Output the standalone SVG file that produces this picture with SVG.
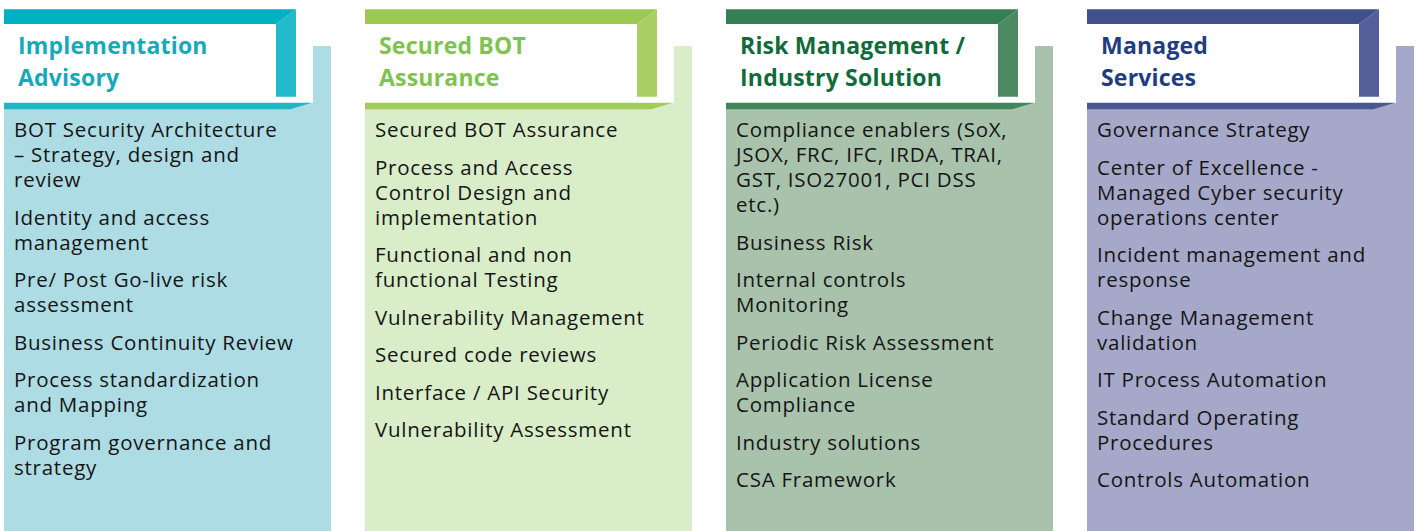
<svg xmlns="http://www.w3.org/2000/svg" width="1416" height="531" viewBox="0 0 1416 531">
<style>
.hd{font-family:"Open Sans","Noto Sans",sans-serif;font-weight:700;font-size:23px;letter-spacing:0.2px}
.bd{font-family:"Open Sans","Noto Sans",sans-serif;font-size:20.5px;letter-spacing:0.75px;fill:#151515}
.c1 .top{fill:#00B1C3}.c1 .side{fill:#22B9C8}.c1 .strip{fill:#22B5C5}.c1 .light{fill:#ADDCE4}.c1 .hd{fill:#17A9BA}
.c2 .top{fill:#9BC952}.c2 .side{fill:#A8CF63}.c2 .strip{fill:#A2CC5A}.c2 .light{fill:#D9EDC9}.c2 .hd{fill:#7EC34E}
.c3 .top{fill:#357F54}.c3 .side{fill:#4B8A62}.c3 .strip{fill:#42865C}.c3 .light{fill:#A8C2AC}.c3 .hd{fill:#0F6C3A}
.c4 .top{fill:#414F8A}.c4 .side{fill:#535F98}.c4 .strip{fill:#4A5791}.c4 .light{fill:#A5A8C9}.c4 .hd{fill:#203C82}
</style>
<rect width="1416" height="531" fill="#fff"/>
<g id="col1" class="c1">
<path class="light" d="M313,46 H331 V531 H4 V103 H313 Z"/>
<path class="top" d="M4,9.3 H296 L276,24 H4 Z"/>
<path class="side" d="M296,9.3 V96.7 H276 V24 Z"/>
<path class="strip" d="M4,102.7 H312 L290,109.3 H4 Z"/>
<text class="hd" x="18" y="54.3">Implementation<tspan x="18" dy="31.7">Advisory</tspan></text>
<text class="bd" x="14" y="137">BOT Security Architecture<tspan x="14" dy="25">– Strategy, design and</tspan><tspan x="14" dy="25">review</tspan></text>
<text class="bd" x="14" y="224.5">Identity and access<tspan x="14" dy="25">management</tspan></text>
<text class="bd" x="14" y="287">Pre/ Post Go-live risk<tspan x="14" dy="25">assessment</tspan></text>
<text class="bd" x="14" y="349.5">Business Continuity Review</text>
<text class="bd" x="14" y="387">Process standardization<tspan x="14" dy="25">and Mapping</tspan></text>
<text class="bd" x="14" y="449.5">Program governance and<tspan x="14" dy="25">strategy</tspan></text>
</g>
<g id="col2" class="c2">
<path class="light" d="M674,46 H692 V531 H365 V103 H674 Z"/>
<path class="top" d="M365,9.3 H657 L637,24 H365 Z"/>
<path class="side" d="M657,9.3 V96.7 H637 V24 Z"/>
<path class="strip" d="M365,102.7 H673 L651,109.3 H365 Z"/>
<text class="hd" x="379" y="54.3">Secured BOT<tspan x="379" dy="31.7">Assurance</tspan></text>
<text class="bd" x="375" y="137">Secured BOT Assurance</text>
<text class="bd" x="375" y="174.5">Process and Access<tspan x="375" dy="25">Control Design and</tspan><tspan x="375" dy="25">implementation</tspan></text>
<text class="bd" x="375" y="262">Functional and non<tspan x="375" dy="25">functional Testing</tspan></text>
<text class="bd" x="375" y="324.5">Vulnerability Management</text>
<text class="bd" x="375" y="362">Secured code reviews</text>
<text class="bd" x="375" y="399.5">Interface / API Security</text>
<text class="bd" x="375" y="437">Vulnerability Assessment</text>
</g>
<g id="col3" class="c3">
<path class="light" d="M1035,46 H1053 V531 H726 V103 H1035 Z"/>
<path class="top" d="M726,9.3 H1018 L998,24 H726 Z"/>
<path class="side" d="M1018,9.3 V96.7 H998 V24 Z"/>
<path class="strip" d="M726,102.7 H1034 L1012,109.3 H726 Z"/>
<text class="hd" x="740" y="54.3">Risk Management /<tspan x="740" dy="31.7">Industry Solution</tspan></text>
<text class="bd" x="736" y="137">Compliance enablers (SoX,<tspan x="736" dy="25">JSOX, FRC, IFC, IRDA, TRAI,</tspan><tspan x="736" dy="25">GST, ISO27001, PCI DSS</tspan><tspan x="736" dy="25">etc.)</tspan></text>
<text class="bd" x="736" y="249.5">Business Risk</text>
<text class="bd" x="736" y="287">Internal controls<tspan x="736" dy="25">Monitoring</tspan></text>
<text class="bd" x="736" y="349.5">Periodic Risk Assessment</text>
<text class="bd" x="736" y="387">Application License<tspan x="736" dy="25">Compliance</tspan></text>
<text class="bd" x="736" y="449.5">Industry solutions</text>
<text class="bd" x="736" y="487">CSA Framework</text>
</g>
<g id="col4" class="c4">
<path class="light" d="M1396,46 H1414 V531 H1087 V103 H1396 Z"/>
<path class="top" d="M1087,9.3 H1379 L1359,24 H1087 Z"/>
<path class="side" d="M1379,9.3 V96.7 H1359 V24 Z"/>
<path class="strip" d="M1087,102.7 H1395 L1373,109.3 H1087 Z"/>
<text class="hd" x="1101" y="54.3">Managed<tspan x="1101" dy="31.7">Services</tspan></text>
<text class="bd" x="1097" y="137">Governance Strategy</text>
<text class="bd" x="1097" y="174.5">Center of Excellence -<tspan x="1097" dy="25">Managed Cyber security</tspan><tspan x="1097" dy="25">operations center</tspan></text>
<text class="bd" x="1097" y="262">Incident management and<tspan x="1097" dy="25">response</tspan></text>
<text class="bd" x="1097" y="324.5">Change Management<tspan x="1097" dy="25">validation</tspan></text>
<text class="bd" x="1097" y="387">IT Process Automation</text>
<text class="bd" x="1097" y="424.5">Standard Operating<tspan x="1097" dy="25">Procedures</tspan></text>
<text class="bd" x="1097" y="487">Controls Automation</text>
</g>
<g id="connectors"/>
</svg>
